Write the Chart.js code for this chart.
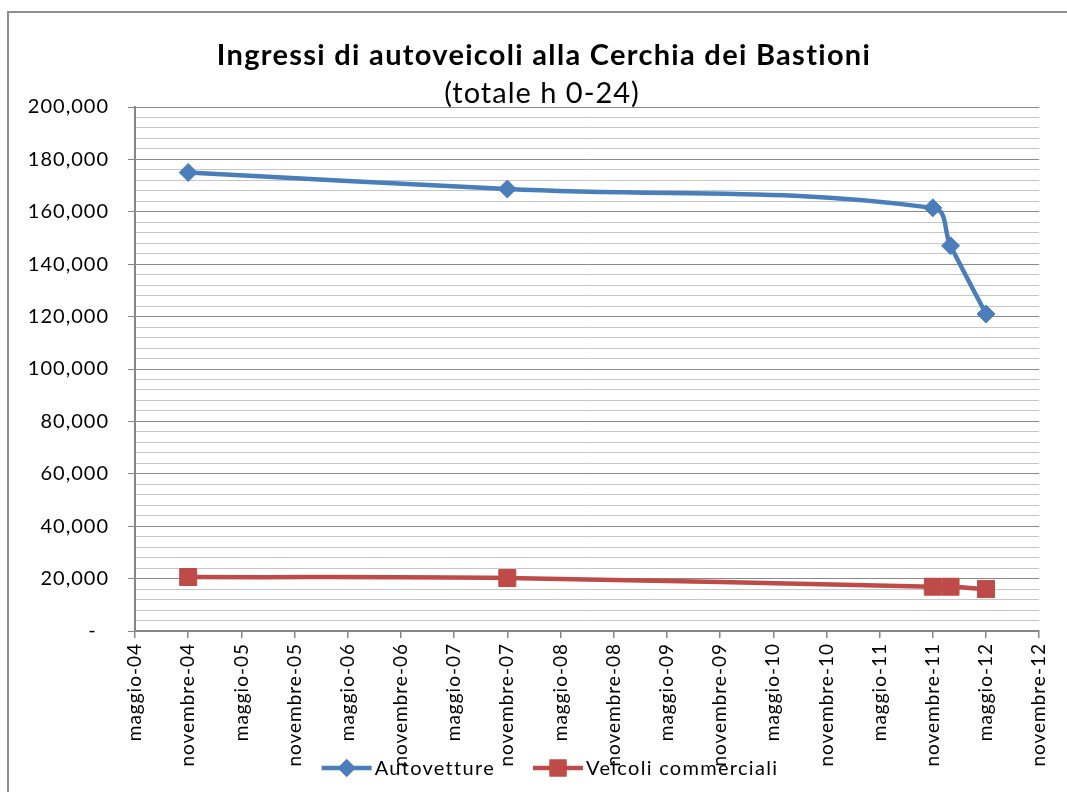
<!DOCTYPE html>
<html>
<head>
<meta charset="utf-8">
<script src="https://cdn.jsdelivr.net/npm/chart.js@4.4.1/dist/chart.umd.min.js"></script>
<style>
  html, body { margin: 0; padding: 0; background: #fff; }
  #wrap { position: relative; width: 1067px; height: 792px; overflow: hidden; }
  #chart { position: absolute; left: 0; top: 0; }
  #frame { position: absolute; left: 7px; top: 11px; width: 1100px; height: 820px; border: 2px solid #8e8e8e; box-sizing: border-box; pointer-events: none; }
</style>
</head>
<body>
<div id="wrap">
  <canvas id="chart" width="1067" height="792"></canvas>
  <div id="frame"></div>
</div>
<script>
  // data
  const dates = ['2004-11', '2007-11', '2011-11', '2012-01', '2012-05'];
  const autovetture = [175000, 168700, 161500, 147000, 121000];
  const commerciali = [20600, 20200, 16900, 16900, 16000];
  const seriesNames = ['Autovetture', 'Veicoli commerciali'];

  // x axis: one tick every 6 months
  const axisStart = '2004-05';
  const axisEnd = '2012-11';
  const tickLabels = [
    'maggio-04', 'novembre-04', 'maggio-05', 'novembre-05', 'maggio-06', 'novembre-06',
    'maggio-07', 'novembre-07', 'maggio-08', 'novembre-08', 'maggio-09', 'novembre-09',
    'maggio-10', 'novembre-10', 'maggio-11', 'novembre-11', 'maggio-12', 'novembre-12'
  ];

  const title = 'Ingressi di autoveicoli alla Cerchia dei Bastioni';
  const subtitle = '(totale h 0-24)';

  const FONT = 'Lato';
  const BLUE = '#4a7ebb';
  const RED = '#be4b48';

  // month count since Jan 2000
  const toMonth = s => {
    const [y, m] = s.split('-').map(Number);
    return (y - 2000) * 12 + (m - 1);
  };
  const x0 = toMonth(axisStart);

  // Titles drawn on canvas
  const titlePlugin = {
    id: 'titles',
    afterDraw(chart) {
      const ctx = chart.ctx;
      ctx.save();
      ctx.fillStyle = '#000';
      ctx.textAlign = 'center';
      ctx.textBaseline = 'alphabetic';
      ctx.letterSpacing = '1.3px';
      ctx.font = `bold 29px ${FONT}`;
      ctx.fillText(title, 544, 65);
      ctx.letterSpacing = '1px';
      ctx.font = `29px ${FONT}`;
      ctx.fillText(subtitle, 542, 103);
      ctx.restore();
    }
  };

  // Excel style legend: line with marker, then name
  const legendPlugin = {
    id: 'lineLegend',
    afterDraw(chart) {
      const ctx = chart.ctx;
      ctx.save();
      ctx.font = `20px ${FONT}`;
      ctx.letterSpacing = '1.3px';
      ctx.textBaseline = 'middle';
      ctx.textAlign = 'left';
      const lineW = 50, gap = 3, itemGap = 38, y = 768;
      const items = chart.data.datasets.map(ds => ({ ds, w: lineW + gap + ctx.measureText(ds.label).width }));
      const total = items.reduce((a, it) => a + it.w, 0) + itemGap * (items.length - 1);
      let x = 550 - total / 2;
      items.forEach(({ ds }, i) => {
        ctx.strokeStyle = ds.borderColor;
        ctx.lineWidth = ds.borderWidth;
        ctx.beginPath();
        ctx.moveTo(x, y);
        ctx.lineTo(x + lineW, y);
        ctx.stroke();
        ctx.fillStyle = ds.pointBackgroundColor;
        Chart.helpers.drawPoint(ctx, { pointStyle: ds.pointStyle, radius: ds.pointRadius, rotation: 0, borderWidth: 0 }, x + lineW / 2, y);
        ctx.fill();
        ctx.fillStyle = '#000';
        ctx.fillText(ds.label, x + lineW + gap, y + 1);
        x += items[i].w + itemGap;
      });
      ctx.restore();
    }
  };

  const spacing = {
    id: 'spacing',
    beforeDraw(chart) { chart.ctx.letterSpacing = '1px'; }
  };

  new Chart(document.getElementById('chart'), {
    type: 'line',
    data: {
      datasets: [
        {
          label: seriesNames[0],
          data: dates.map((d, i) => ({ x: toMonth(d), y: autovetture[i] })),
          borderColor: BLUE,
          backgroundColor: BLUE,
          pointBackgroundColor: BLUE,
          pointBorderColor: BLUE,
          pointBorderWidth: 1,
          pointStyle: 'rectRot',
          pointRadius: 9,
          borderWidth: 4.5,
          tension: 0.4
        },
        {
          label: seriesNames[1],
          data: dates.map((d, i) => ({ x: toMonth(d), y: commerciali[i] })),
          borderColor: RED,
          backgroundColor: RED,
          pointBackgroundColor: RED,
          pointBorderColor: RED,
          pointBorderWidth: 1,
          pointStyle: 'rect',
          pointRadius: 12,
          borderWidth: 4.5,
          tension: 0.4
        }
      ]
    },
    options: {
      responsive: false,
      animation: false,
      layout: { padding: { left: 0, top: 107, right: 27, bottom: 0 } },
      plugins: {
        legend: { display: false },
        title: { display: false },
        tooltip: { enabled: false }
      },
      scales: {
        x: {
          type: 'linear',
          min: x0,
          max: toMonth(axisEnd),
          afterFit: s => { s.height = 161; },
          afterBuildTicks: s => {
            s.ticks = tickLabels.map((_, i) => ({ value: x0 + i * 6 }));
          },
          ticks: {
            autoSkip: false,
            maxRotation: 90,
            minRotation: 90,
            padding: 5,
            color: '#000',
            font: { family: FONT, size: 19 },
            callback: v => tickLabels[Math.round((v - x0) / 6)]
          },
          grid: { drawOnChartArea: false, tickLength: 7, color: '#868686', lineWidth: 1.5 },
          border: { color: '#868686', width: 2 }
        },
        y: {
          min: 0,
          max: 200000,
          afterFit: s => { s.width = 135; },
          ticks: {
            stepSize: 4000,
            autoSkip: false,
            padding: 19,
            color: '#000',
            font: { family: FONT, size: 20 },
            callback: v => v % 20000 !== 0 ? '' : (v === 0 ? '-  ' : v.toLocaleString('en-US'))
          },
          grid: {
            tickLength: 7,
            lineWidth: 1,
            color: c => c.tick && c.tick.value % 20000 === 0 ? '#8a8a8a' : '#c6c6c6',
            tickColor: c => c.tick && c.tick.value % 20000 === 0 ? '#868686' : 'rgba(0,0,0,0)'
          },
          border: { color: '#868686', width: 2 }
        }
      }
    },
    plugins: [spacing, titlePlugin, legendPlugin]
  });
</script>
</body>
</html>
